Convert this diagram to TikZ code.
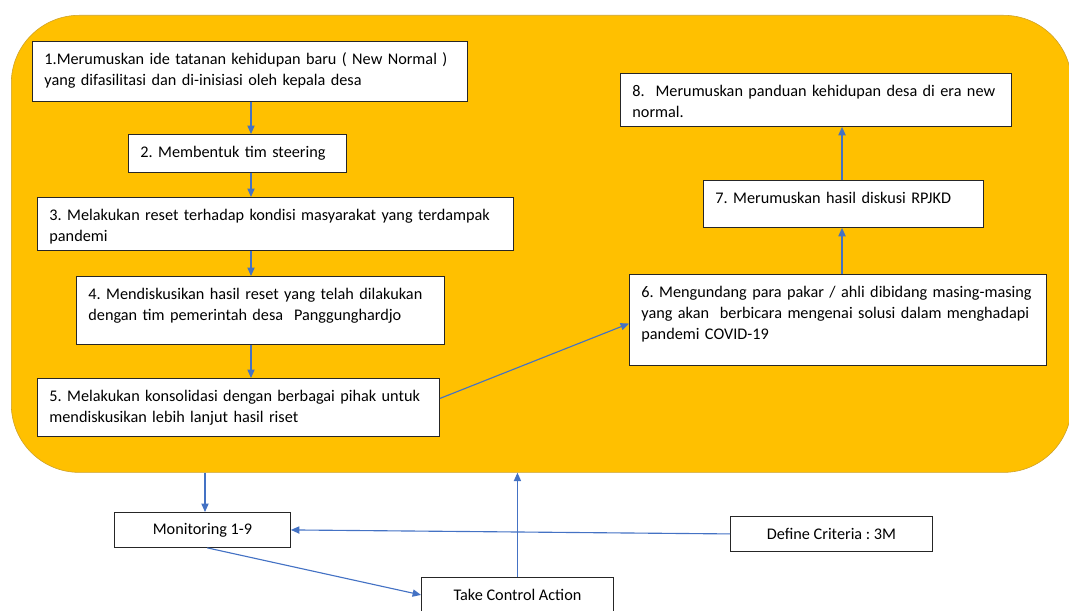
\documentclass[tikz,border=0pt]{standalone}
\usepackage{fontspec}
\setmainfont{Carlito}
\usetikzlibrary{arrows.meta}
\definecolor{PanelGold}{RGB}{255,192,0}
\definecolor{PanelEdge}{RGB}{205,160,40}
\definecolor{ArrowBlue}{RGB}{68,114,196}
\newcommand{\stepfont}{\fontsize{11.55}{15}\selectfont\frenchspacing\hyphenpenalty=10000}
\tikzset{
  stepbox/.style = {draw=black!85, fill=white, line width=0.6pt, anchor=north west,
                    align=left, inner xsep=0.3cm, inner ysep=0pt,
                    text height=0.575cm, font=\stepfont},
  ctrlbox/.style = {draw=black!85, fill=white, line width=0.6pt, anchor=north west,
                    minimum height=0.875cm, inner sep=0pt, font=\stepfont},
  arr/.style     = {-{Triangle[length=2.1mm,width=1.8mm]}, ArrowBlue, line width=0.8pt}
}

\begin{document}
\begin{tikzpicture}[x=0.025cm, y=-0.025cm]
\useasboundingbox (0,0) rectangle (1069,610);
\node[draw=PanelEdge, fill=PanelGold, rounded corners=1.7cm, anchor=north west, inner sep=0pt,
      minimum width=26.5cm, minimum height=11.425cm] (panel) at (11,15) {};
\node[stepbox, text width=10.275cm, text depth=0.925cm] (s1) at (32,41)
  {1.Merumuskan ide tatanan kehidupan baru ( New Normal )\\yang difasilitasi dan di-inisiasi oleh kepala desa};
\node[stepbox, text width=4.85cm, text depth=0.375cm] (s2) at (128,134) {2. Membentuk tim steering};
\node[stepbox, text width=11.3cm, text depth=0.75cm] (s3) at (37,197)
  {3. Melakukan reset terhadap kondisi masyarakat yang terdampak\\pandemi};
\node[stepbox, text width=8.6cm, text depth=1.125cm] (s4) at (76,276)
  {4. Mendiskusikan hasil reset yang telah dilakukan\\dengan tim pemerintah desa~ Panggunghardjo};
\node[stepbox, text width=9.45cm, text depth=0.875cm] (s5) at (37,378)
  {5. Melakukan konsolidasi dengan berbagai pihak untuk\\mendiskusikan lebih lanjut hasil riset};
\node[stepbox, text width=9.825cm, text depth=1.7cm] (s6) at (629,274)
  {6. Mengundang para pakar / ahli dibidang masing-masing\\yang akan~ berbicara mengenai solusi dalam menghadapi\\pandemi COVID-19};
\node[stepbox, text width=6.4cm, text depth=0.6cm] (s7) at (703,180) {7. Merumuskan hasil diskusi RPJKD};
\node[stepbox, text width=9.175cm, text depth=0.75cm] (s8) at (620,73)
  {8.~ Merumuskan panduan kehidupan desa di era new\\normal.};
\node[ctrlbox, minimum width=4.4cm] (mon) at (114,512) {Monitoring 1-9};
\node[ctrlbox, minimum width=5.05cm] (def) at (730,516) {Define Criteria : 3M};
\node[ctrlbox, minimum width=4.8cm] (act) at (421,577) {Take Control Action};
\coordinate (lcol) at (251,0);
\coordinate (rcol) at (842,0);
\coordinate (mcol) at (205,0);
\draw[arr] (s1.south -| lcol) -- (s2.north -| lcol);
\draw[arr] (s2.south -| lcol) -- (s3.north -| lcol);
\draw[arr] (s3.south -| lcol) -- (s4.north -| lcol);
\draw[arr] (s4.south -| lcol) -- (s5.north -| lcol);
\draw[arr] ([yshift=0.225cm]s5.east) -- ([yshift=-0.09cm]s6.west);
\draw[arr] (s6.north -| rcol) -- (s7.south -| rcol);
\draw[arr] (s7.north -| rcol) -- (s8.south -| rcol);
\draw[arr] (panel.south -| mcol) -- (mon.north -| mcol);
\draw[arr] (def.west) -- (mon.east);
\draw[arr] ([xshift=0.12cm]mon.south) -- (act.west);
\draw[arr] (act.north) -- (act.north |- panel.south);
\end{tikzpicture}
\end{document}
